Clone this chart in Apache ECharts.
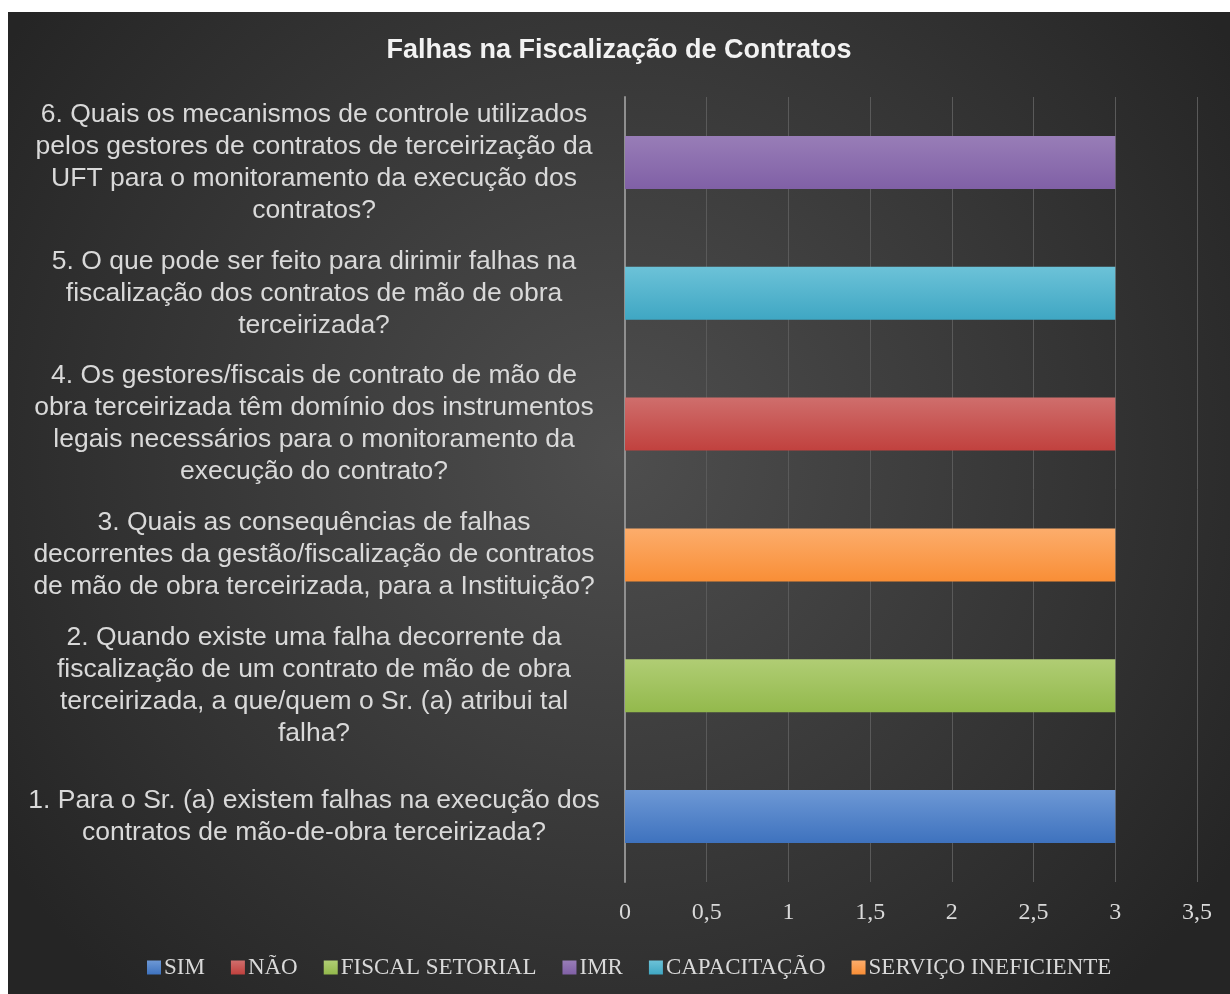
<!DOCTYPE html>
<html>
<head>
<meta charset="utf-8">
<title>Falhas na Fiscalização de Contratos</title>
<script src="https://cdn.jsdelivr.net/npm/echarts@6/dist/echarts.min.js"></script>
<style>
  html, body { margin: 0; padding: 0; background: #fff; }
  #chart { position: absolute; left: 8px; top: 12px; width: 1222px; height: 982px; }
</style>
</head>
<body>
<div id="chart"></div>
<script>
// perguntas (de baixo para cima)
const categories = [
  '1. Para o Sr. (a) existem falhas na execução dos\ncontratos de mão-de-obra terceirizada?',
  '2. Quando existe uma falha decorrente da\nfiscalização de um contrato de mão de obra\nterceirizada, a que/quem o Sr. (a) atribui tal\nfalha?',
  '3. Quais as consequências de falhas\ndecorrentes da gestão/fiscalização de contratos\nde mão de obra terceirizada, para a Instituição?',
  '4. Os gestores/fiscais de contrato de mão de\nobra terceirizada têm domínio dos instrumentos\nlegais necessários para o monitoramento da\nexecução do contrato?',
  '5. O que pode ser feito para dirimir falhas na\nfiscalização dos contratos de mão de obra\nterceirizada?',
  '6. Quais os mecanismos de controle utilizados\npelos gestores de contratos de terceirização da\nUFT para o monitoramento da execução dos\ncontratos?'
]

const seriesNames = ['SIM', 'NÃO', 'FISCAL SETORIAL', 'IMR', 'CAPACITAÇÃO', 'SERVIÇO INEFICIENTE']

// um valor por pergunta, null onde a série não aparece
const simData = [3, null, null, null, null, null]
const naoData = [null, null, null, 3, null, null]
const fiscalData = [null, 3, null, null, null, null]
const imrData = [null, null, null, null, null, 3]
const capacitacaoData = [null, null, null, null, 3, null]
const servicoData = [null, null, 3, null, null, null]

const xTicks = ['0', '0,5', '1', '1,5', '2', '2,5', '3', '3,5']

// cores (claro em cima, escuro em baixo)
const barColors = [
  ['#6d98d5', '#3e72be'],
  ['#cf6e6c', '#c1413e'],
  ['#b0cd74', '#93b94c'],
  ['#987db7', '#8060a6'],
  ['#6cc2d8', '#3fa7c3'],
  ['#fcad6c', '#f98e36']
]

const allData = [simData, naoData, fiscalData, imrData, capacitacaoData, servicoData]

function gradient(c) {
  return new echarts.graphic.LinearGradient(0, 0, 0, 1, [
    { offset: 0, color: c[0] },
    { offset: 1, color: c[1] }
  ])
}

const chart = echarts.init(document.getElementById('chart'))

const option = {
  backgroundColor: {
    type: 'radial', x: 0.5, y: 0.45, r: 0.75,
    colorStops: [
      { offset: 0, color: '#4e4e4e' },
      { offset: 1, color: '#252525' }
    ]
  },
  title: {
    text: 'Falhas na Fiscalização de Contratos',
    left: 'center',
    top: 20,
    textStyle: {
      color: '#f2f2f2',
      fontFamily: 'Liberation Sans',
      fontWeight: 'bold',
      fontSize: 27
    }
  },
  legend: {
    top: 939,
    left: 134,
    itemWidth: 14,
    itemHeight: 14,
    itemGap: 26,
    icon: 'rect',
    data: seriesNames,
    textStyle: {
      color: '#d9d9d9',
      fontFamily: 'Liberation Serif',
      fontSize: 23,
      padding: [0, 0, 0, -2]
    }
  },
  grid: {
    left: 617,
    right: 33,
    top: 85,
    bottom: 112,
    containLabel: false
  },
  xAxis: {
    type: 'value',
    min: 0,
    max: 3.5,
    interval: 0.5,
    axisLine: { show: false },
    axisTick: { show: false },
    splitLine: {
      show: true,
      lineStyle: { color: '#5a5a5a', width: 1 }
    },
    axisLabel: {
      color: '#d9d9d9',
      fontFamily: 'Liberation Serif',
      fontSize: 24,
      margin: 19,
      formatter: function (value) {
        return xTicks[Math.round(value * 2)]
      }
    }
  },
  yAxis: {
    type: 'category',
    data: categories,
    axisTick: { show: false },
    axisLine: {
      show: true,
      lineStyle: { color: '#8f8f8f', width: 2 }
    },
    axisLabel: {
      color: '#d9d9d9',
      fontFamily: 'Liberation Sans',
      fontSize: 26.5,
      lineHeight: 32,
      align: 'center',
      margin: 311
    }
  },
  series: seriesNames.map((name, i) => ({
    name: name,
    type: 'bar',
    stack: 'total',
    barWidth: 53,
    data: allData[i],
    itemStyle: { color: gradient(barColors[i]) }
  }))
}

chart.setOption(option)
</script>
</body>
</html>
